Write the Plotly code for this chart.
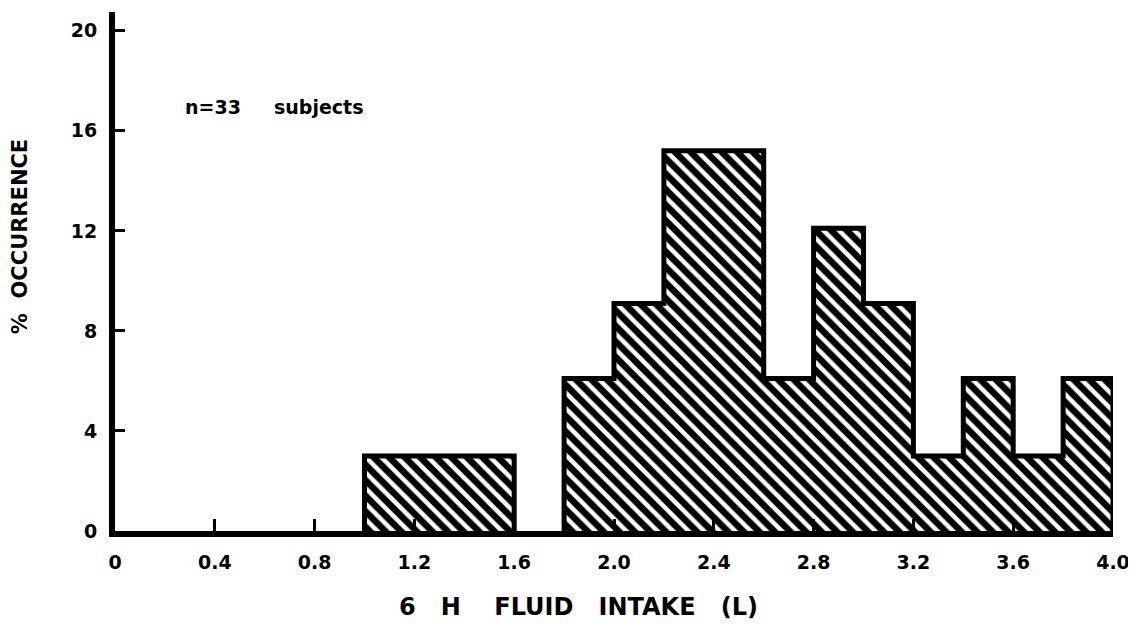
import plotly.graph_objects as go

# Histogram bins (left edges, width 0.2 L) and % occurrence
bin_left = [1.0, 1.2, 1.4, 1.8, 2.0, 2.2, 2.4, 2.6, 2.8, 3.0, 3.2, 3.4, 3.6, 3.8]
pct = [3.0, 3.0, 3.0, 6.1, 9.1, 15.2, 15.2, 6.1, 12.1, 9.1, 3.0, 6.1, 3.0, 6.1]
bin_width = 0.2

x_ticks = [0, 0.4, 0.8, 1.2, 1.6, 2.0, 2.4, 2.8, 3.2, 3.6, 4.0]
x_labels = ["0", "0.4", "0.8", "1.2", "1.6", "2.0", "2.4", "2.8", "3.2", "3.6", "4.0"]
y_ticks = [0, 4, 8, 12, 16, 20]
y_labels = ["0", "4", "8", "12", "16", "20"]

FONT = "DejaVu Sans"

fig = go.Figure()

fig.add_trace(go.Bar(
    x=bin_left, y=pct, width=bin_width, offset=0,
    marker=dict(color="white", line=dict(width=0),
                pattern=dict(shape="\\", fgcolor="black", bgcolor="white",
                             fgopacity=1, size=11, solidity=0.6)),
    showlegend=False, hoverinfo="skip",
))

# step outline built from the bins (contiguous runs)
ox, oy = [], []
runs = []
for l, v in zip(bin_left, pct):
    if runs and abs(runs[-1][-1][0] + bin_width - l) < 1e-9:
        runs[-1].append((l, v))
    else:
        runs.append([(l, v)])
for run in runs:
    for j, (l, v) in enumerate(run):
        prev = 0 if j == 0 else run[j - 1][1]
        ox += [l, l]
        oy += [prev, v]
    last_l, last_v = run[-1]
    ox += [last_l + bin_width, last_l + bin_width, None]
    oy += [last_v, 0, None]

fig.add_trace(go.Scatter(
    x=ox, y=oy, mode="lines",
    line=dict(color="black", width=5),
    cliponaxis=False, showlegend=False, hoverinfo="skip",
))

fig.update_layout(
    width=1128, height=616,
    margin=dict(l=107, r=23, t=4, b=93),
    paper_bgcolor="white", plot_bgcolor="white",
    font=dict(family=FONT, color="black", weight="bold"),
    bargap=0,
)

fig.update_xaxes(
    range=[0, 4.0], tickmode="array", tickvals=x_ticks, ticktext=x_labels,
    ticks="inside", ticklen=12, tickwidth=3, tickcolor="black",
    showline=True, linewidth=6, linecolor="black",
    showgrid=False, zeroline=False,
    tickfont=dict(family=FONT, size=19, weight="bold"),
    ticklabelstandoff=9,
)
fig.update_yaxes(
    range=[0, 20.75], tickmode="array", tickvals=y_ticks, ticktext=y_labels,
    ticks="inside", ticklen=10, tickwidth=3, tickcolor="black",
    showline=True, linewidth=6, linecolor="black",
    showgrid=False, zeroline=False,
    tickfont=dict(family=FONT, size=19, weight="bold"),
    ticklabelstandoff=8,
)

fig.add_annotation(
    text="6\u00a0\u00a0\u00a0H\u00a0\u00a0\u00a0\u00a0FLUID\u00a0\u00a0\u00a0INTAKE\u00a0\u00a0\u00a0(L)",
    xref="paper", yref="paper", x=0.464, y=-0.146, xanchor="center", yanchor="middle",
    showarrow=False, font=dict(family=FONT, size=24, weight="bold"),
)
fig.add_annotation(
    text="%\u00a0\u00a0OCCURRENCE",
    xref="paper", yref="paper", x=-0.0952, y=0.568, xanchor="center", yanchor="middle",
    textangle=-90, showarrow=False, font=dict(family=FONT, size=21, weight="bold"),
)
fig.add_annotation(
    text="n=33\u00a0\u00a0\u00a0\u00a0\u00a0subjects",
    xref="x", yref="y", x=0.272, y=16.96, xanchor="left", yanchor="middle",
    showarrow=False, font=dict(family=FONT, size=19, weight="bold"),
)

fig.write_html("out.html")
